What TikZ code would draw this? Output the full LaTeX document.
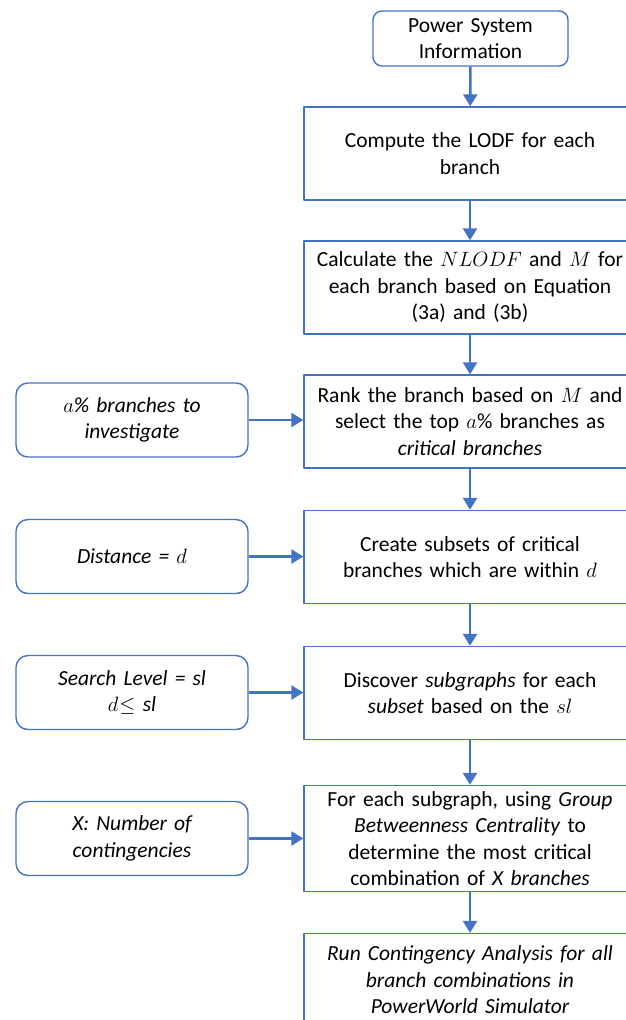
\documentclass[tikz,border=0pt]{standalone}
\usepackage{fontspec}
\setmainfont{Carlito}
\usetikzlibrary{arrows.meta}
\definecolor{flowblue}{RGB}{68,114,196}

\begin{document}
\begin{tikzpicture}[x=1pt,y=1pt,line join=round,
    every node/.style={draw=flowblue,line width=1.4pt,align=center,inner sep=2pt,font=\fontsize{21.5}{26.5}\selectfont},
    stepbox/.style={minimum width=332pt,minimum height=93pt,text width=324pt},
    inbox/.style={rounded corners=12pt,minimum width=232pt,minimum height=74pt,text width=226pt},
    flow/.style={draw=flowblue,line width=2.6pt,-{Triangle[length=12pt,width=14pt]}}]
    \useasboundingbox (0,0) rectangle (626,-1020);
    \clip (0,0) rectangle (626,-1020);
    \node[rounded corners=9pt,minimum width=195pt,minimum height=55pt,text width=189pt] (b0) at (470.5,-38.5) {Power System\\Information};
    \node[stepbox] (b1) at (470,-153.5) {Compute the LODF for each\\branch};
    \node[stepbox] (b2) at (470,-287.5) {Calculate the $NLODF$ and $M$ for\\each branch based on Equation\\(3a) and (3b)};
    \node[stepbox] (b3) at (470,-421.5) {Rank the branch based on $M$ and\\select the top $a$\% branches as\\\textit{critical branches}};
    \node[stepbox] (b4) at (470,-557) {Create subsets of critical\\branches which are within $d$};
    \node[stepbox] (b5) at (470,-693) {Discover \textit{subgraphs} for each\\\textit{subset} based on the $sl$};
    \node[stepbox,minimum height=106pt] (b6) at (470,-838.5) {For each subgraph, using \textit{Group}\\\textit{Betweenness Centrality} to\\determine the most critical\\combination of \textit{X branches}};
    \node[stepbox] (b7) at (470,-980) {\itshape Run Contingency Analysis for all\\\itshape branch combinations in\\\itshape PowerWorld Simulator};
    \node[inbox] (i1) at (132,-420) {\itshape $a$\% branches to\\\itshape investigate};
    \node[inbox] (i2) at (132,-556.5) {\itshape Distance = $d$};
    \node[inbox] (i3) at (132,-692.5) {\itshape Search Level = sl\\$d$\kern1pt$\leq$ \textit{sl}};
    \node[inbox] (i4) at (132,-838.5) {\itshape X: Number of\\\itshape contingencies};
    \draw[flow] (b0) -- (b1);
    \draw[flow] (b1) -- (b2);
    \draw[flow] (b2) -- (b3);
    \draw[flow] (b3) -- (b4);
    \draw[flow] (b4) -- (b5);
    \draw[flow] (b5) -- (b6);
    \draw[flow] (b6) -- (b7);
    \draw[flow] (i1) -- (i1 -| b3.west);
    \draw[flow] (i2) -- (i2 -| b4.west);
    \draw[flow] (i3) -- (i3 -| b5.west);
    \draw[flow] (i4) -- (i4 -| b6.west);
\end{tikzpicture}
\end{document}
